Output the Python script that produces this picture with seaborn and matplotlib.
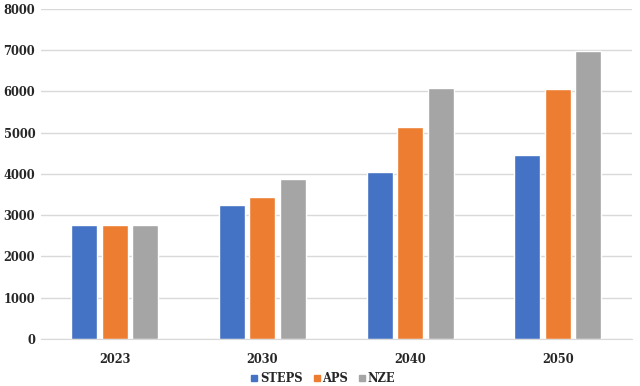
import pandas as pd
import matplotlib
matplotlib.use("Agg")
import matplotlib.pyplot as plt
import seaborn as sns
from matplotlib.lines import Line2D

# data
years = ["2023", "2030", "2040", "2050"]
scenarios = ["STEPS", "APS", "NZE"]
steps = [2760, 3260, 4050, 4460]
aps = [2760, 3450, 5150, 6050]
nze = [2760, 3880, 6090, 6970]
colors = ["#4472C4", "#ED7D31", "#A5A5A5"]

df = pd.DataFrame({"year": years, "STEPS": steps, "APS": aps, "NZE": nze})
df = df.melt(id_vars="year", var_name="scenario", value_name="value")

sns.set_style("white")
plt.rcParams["font.family"] = ["DejaVu Serif"]

fig = plt.figure(figsize=(6.4, 3.86), dpi=100)
ax = fig.add_axes([0.0636, 0.1218, 0.9234, 0.8549])

sns.barplot(data=df, x="year", y="value", hue="scenario", hue_order=scenarios,
            palette=colors, width=0.62, gap=0.15, saturation=1, ax=ax, legend=False)

ax.set_ylim(0, 8000)
ax.set_xlim(-0.5, 3.5)
ax.set_yticks(range(0, 8001, 1000))
ax.yaxis.grid(True, color="#D9D9D9", linewidth=1)
ax.set_axisbelow(True)
for s in ["top", "right", "left"]:
    ax.spines[s].set_visible(False)
ax.spines["bottom"].set_color("#D9D9D9")
ax.tick_params(axis="both", length=0, labelsize=8.3, colors="#262626")
ax.tick_params(axis="y", pad=4)
ax.tick_params(axis="x", pad=10)
for lab in ax.get_xticklabels() + ax.get_yticklabels():
    lab.set_fontweight("bold")
ax.set_xlabel("")
ax.set_ylabel("")

handles = [Line2D([], [], marker="s", linestyle="", color=c, markersize=5) for c in colors]
fig.legend(handles, scenarios, loc="lower center", bbox_to_anchor=(0.505, -0.025), ncol=3,
           frameon=False, handletextpad=0.2, columnspacing=0.9, handlelength=0.6,
           prop={"weight": "bold", "size": 8.3})

fig.savefig("out.png", dpi=100)
